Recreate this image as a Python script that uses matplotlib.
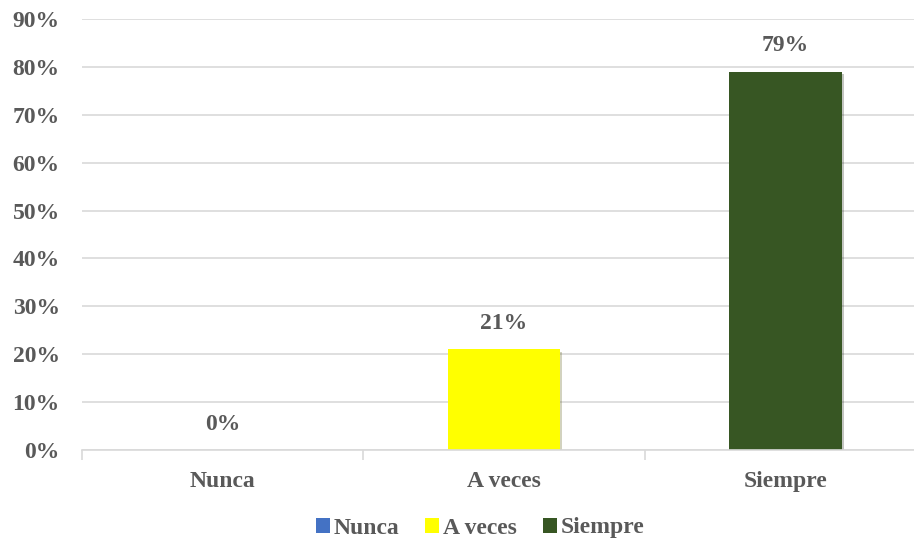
import matplotlib.pyplot as plt
import matplotlib.patheffects as pe
from matplotlib.patches import Patch

categories = ["Nunca", "A veces", "Siempre"]
values = [0.0, 0.21, 0.79]
labels = ["0%", "21%", "79%"]
colors = ["#4472C4", "#FFFF00", "#375623"]
yticks = [0, 0.1, 0.2, 0.3, 0.4, 0.5, 0.6, 0.7, 0.8, 0.9]

text_color = "#595959"
grid_color = "#D9D9D9"

plt.rcParams["font.family"] = ["Liberation Serif", "DejaVu Serif"]
plt.rcParams["font.weight"] = "bold"
fs = 17

fig = plt.figure(figsize=(9.14, 5.41), dpi=100)
ax = fig.add_axes([82 / 914, 91 / 541, 844 / 914, 431 / 541])

x = range(len(categories))
bars = ax.bar(x, values, width=0.4, color=colors, zorder=3)
for b in bars:
    b.set_path_effects([pe.SimplePatchShadow(offset=(1.5, -1.5), alpha=0.25), pe.Normal()])

for xi, v, lab in zip(x, values, labels):
    ax.annotate(lab, (xi, v), xytext=(0, 11), textcoords="offset points",
                ha="center", va="bottom", fontsize=fs, fontweight="bold", color=text_color)

ax.set_xlim(-0.5, 2.5)
ax.set_ylim(0, 0.9)
ax.set_yticks(yticks)
ax.set_yticklabels([f"{int(round(t * 100))}%" for t in yticks])
ax.yaxis.grid(True, color=grid_color, linewidth=1.2, zorder=0)

ax.set_xticks(list(x))
ax.set_xticklabels(categories)
ax.set_xticks([-0.5, 0.5, 1.5, 2.5], minor=True)
ax.tick_params(axis="x", which="major", length=0, pad=15, labelsize=fs, labelcolor=text_color)
ax.tick_params(axis="x", which="minor", length=7, width=1.2, color=grid_color)
ax.tick_params(axis="y", length=0, pad=16, labelsize=fs, labelcolor=text_color)

for s in ["top", "right", "left"]:
    ax.spines[s].set_visible(False)
ax.spines["bottom"].set_color(grid_color)
ax.spines["bottom"].set_linewidth(1.2)
ax.spines["bottom"].set_zorder(4)

handles = [Patch(facecolor=c, label=n) for c, n in zip(colors, categories)]
leg = fig.legend(handles=handles, loc="center", bbox_to_anchor=(480 / 914, 1 - 528 / 541),
                 ncol=3, frameon=False, fontsize=fs, handlelength=0.6, handleheight=0.6,
                 handletextpad=0.15, columnspacing=1.1)
for t in leg.get_texts():
    t.set_color(text_color)

fig.savefig("out.png", dpi=100)
